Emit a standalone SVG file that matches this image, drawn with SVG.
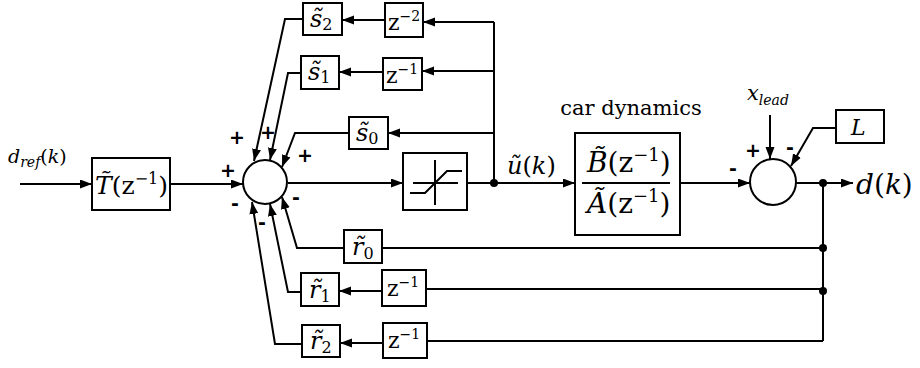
<svg xmlns="http://www.w3.org/2000/svg" width="920" height="368" viewBox="0 0 920 368">
<style>
.b{fill:#fff;stroke:#000;stroke-width:2}
.c{fill:none;stroke:#000;stroke-width:2}
.i{font-style:italic}
.n{font-style:normal}
.pm{font-family:"DejaVu Sans",sans-serif;font-weight:bold;font-size:19px;fill:#000;text-anchor:middle}
</style>
<defs>
<marker id="ah" markerUnits="userSpaceOnUse" markerWidth="13" markerHeight="10" refX="12" refY="4.5" orient="auto">
<path d="M0,0 L12,4.5 L0,9 z" fill="#000"/>
</marker>
</defs>
<rect width="920" height="368" fill="#fff"/>

<g id="connectors" class="c" marker-end="url(#ah)">
<path d="M20,184 H92"/>
<path d="M170,184 H243"/>
<path d="M288,183 H403"/>
<path d="M467,183 H575"/>
<path d="M494,183 V22" marker-end="none"/>
<path d="M494,22 H423"/>
<path d="M494,71 H422"/>
<path d="M494,133 H388"/>
<path d="M385,20 H342"/>
<path d="M383,72 H339"/>
<path d="M303,19 H285 L254,161"/>
<path d="M301,73 H288 L270,160"/>
<path d="M349,133 H295 L282,167"/>
<path d="M680,183 H750"/>
<path d="M796,183 H853"/>
<path d="M770,115 V159"/>
<path d="M836,128 H813 L791,166"/>
<path d="M823,183 V341" marker-end="none"/>
<path d="M823,248 H382" marker-end="none"/>
<path d="M344,248 H297 L282,197"/>
<path d="M823,289 H426" marker-end="none"/>
<path d="M382,291 H339"/>
<path d="M301,292 H288 L270,204"/>
<path d="M823,341 H427" marker-end="none"/>
<path d="M383,343 H340"/>
<path d="M302,344 H275 L252,202"/>
<circle cx="494" cy="183" r="4" fill="#000" stroke="none"/>
<circle cx="823" cy="183" r="4" fill="#000" stroke="none"/>
<circle cx="823" cy="248" r="4" fill="#000" stroke="none"/>
<circle cx="823" cy="291" r="4" fill="#000" stroke="none"/>
</g>

<g font-family="DejaVu Serif, serif" fill="#000">
<g id="dref">
<text class="i" x="8" y="163" font-size="19">d<tspan font-size="14" dy="4">ref</tspan><tspan dy="-4" class="n">(</tspan>k<tspan class="n">)</tspan></text>
</g>

<g id="T">
<rect class="b" x="92" y="158" width="78" height="52"/>
<text x="95" y="194" font-size="25"><tspan class="i">T̃</tspan>(z<tspan font-size="16" dy="-10">−1</tspan><tspan dy="10">)</tspan></text>
</g>

<g id="s2">
<rect class="b" x="303" y="3" width="39" height="32"/>
<text class="i" x="310" y="27" font-size="24">s̃<tspan class="n" font-size="16" dy="3">2</tspan></text>
</g>
<g id="s1">
<rect class="b" x="301" y="56" width="38" height="33"/>
<text class="i" x="308" y="80" font-size="24">s̃<tspan class="n" font-size="16" dy="3">1</tspan></text>
</g>
<g id="s0">
<rect class="b" x="349" y="117" width="39" height="32"/>
<text class="i" x="356" y="141" font-size="24">s̃<tspan class="n" font-size="16" dy="3">0</tspan></text>
</g>

<g id="z2">
<rect class="b" x="385" y="3" width="38" height="34"/>
<text x="388" y="30" font-size="22">z<tspan font-size="14" dy="-9">−2</tspan></text>
</g>
<g id="z1a">
<rect class="b" x="383" y="58" width="39" height="32"/>
<text x="386" y="83" font-size="22">z<tspan font-size="14" dy="-9">−1</tspan></text>
</g>

<g id="u">
<text class="i" x="507" y="174" font-size="24">ũ<tspan class="n">(</tspan>k<tspan class="n">)</tspan></text>
</g>

<g id="car">
<text x="631" y="115" font-size="21" text-anchor="middle">car dynamics</text>
<rect class="b" x="575" y="133" width="105" height="102"/>
<path class="c" d="M582,183 H670"/>
<text x="587" y="172" font-size="28"><tspan class="i">B̃</tspan>(z<tspan font-size="18" dy="-11">−1</tspan><tspan dy="11">)</tspan></text>
<text x="587" y="213" font-size="28"><tspan class="i">Ã</tspan>(z<tspan font-size="18" dy="-11">−1</tspan><tspan dy="11">)</tspan></text>
</g>

<g id="xlead">
<text class="i" x="747" y="100" font-size="21">x<tspan font-size="14" dy="5">lead</tspan></text>
</g>

<g id="L">
<rect class="b" x="836" y="110" width="48" height="33"/>
<text class="i" x="851" y="135" font-size="22">L</text>
</g>

<g id="dk">
<text class="i" x="856" y="194" font-size="28">d<tspan class="n">(</tspan>k<tspan class="n">)</tspan></text>
</g>

<g id="r0">
<rect class="b" x="344" y="230" width="38" height="33"/>
<text class="i" x="352" y="255" font-size="24">r̃<tspan class="n" font-size="16" dy="4">0</tspan></text>
</g>
<g id="r1">
<rect class="b" x="301" y="273" width="38" height="33"/>
<text class="i" x="309" y="298" font-size="24">r̃<tspan class="n" font-size="16" dy="4">1</tspan></text>
</g>
<g id="r2">
<rect class="b" x="302" y="325" width="38" height="32"/>
<text class="i" x="310" y="349" font-size="24">r̃<tspan class="n" font-size="16" dy="4">2</tspan></text>
</g>

<g id="z1b">
<rect class="b" x="382" y="270" width="44" height="36"/>
<text x="387" y="296" font-size="22">z<tspan font-size="14" dy="-9">−1</tspan></text>
</g>
<g id="z1c">
<rect class="b" x="383" y="323" width="44" height="35"/>
<text x="388" y="348" font-size="22">z<tspan font-size="14" dy="-9">−1</tspan></text>
</g>
</g>

<g id="sum1">
<circle class="b" cx="265" cy="182" r="22"/>
<text class="pm" x="228" y="177">+</text>
<text class="pm" x="237" y="144">+</text>
<text class="pm" x="268" y="139">+</text>
<text class="pm" x="305" y="162">+</text>
<text class="pm" x="235" y="210">-</text>
<text class="pm" x="262" y="229">-</text>
<text class="pm" x="296" y="204">-</text>
</g>

<g id="sat">
<rect class="b" x="403" y="153" width="64" height="57"/>
<path class="c" d="M413,183 H458 M435,160 V205" stroke-width="1.5"/>
<path class="c" d="M410,193 H425 L447,171 H462"/>
</g>

<g id="sum2">
<circle class="b" cx="773" cy="182" r="23"/>
<text class="pm" x="733" y="175">-</text>
<text class="pm" x="753" y="157">+</text>
<text class="pm" x="790" y="154">-</text>
</g>
</svg>
